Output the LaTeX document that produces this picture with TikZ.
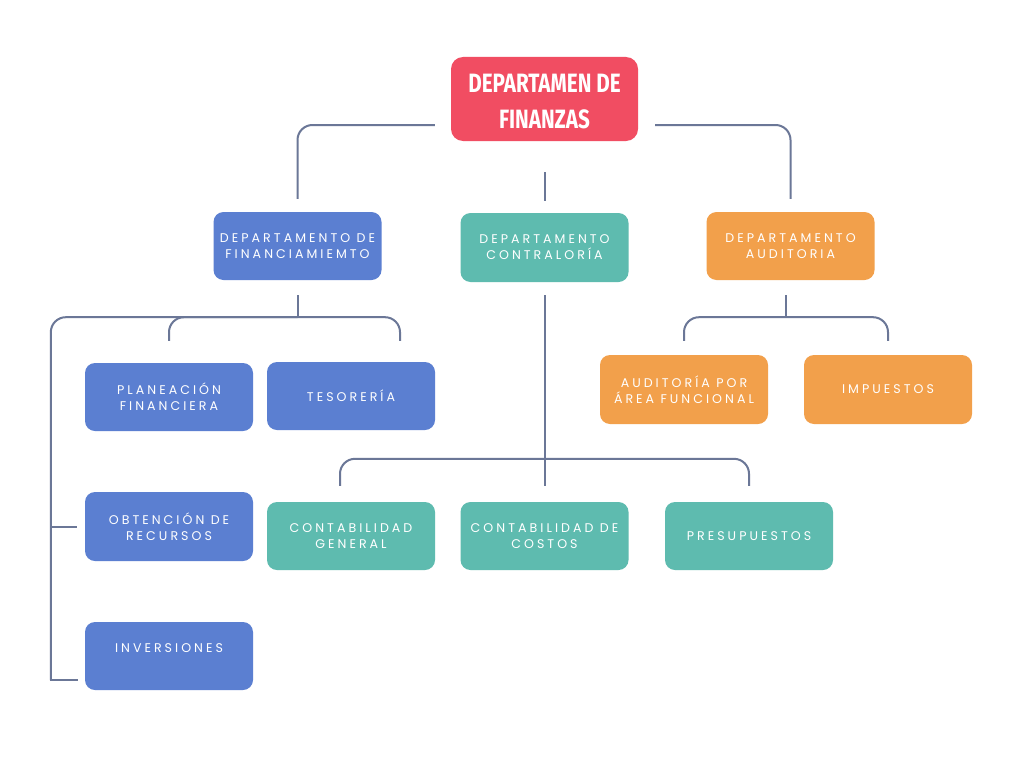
\documentclass[tikz,border=0pt]{standalone}
\usepackage{fontspec}
\usetikzlibrary{calc}
\newfontfamily\titlefont[FakeStretch=0.78]{Fira Sans}
\newfontfamily\boxfont[LetterSpace=24]{Poppins}
\definecolor{cred}{HTML}{F14D62}
\definecolor{cblue}{HTML}{5B7FD1}
\definecolor{cteal}{HTML}{5EBBAF}
\definecolor{corange}{HTML}{F2A04B}
\definecolor{cline}{HTML}{6B7797}
\tikzset{
  box/.style={rounded corners=10pt, minimum width=168pt, minimum height=68pt, inner sep=0pt,
    text=white, align=center, font=\boxfont\fontsize{12.6}{16}\selectfont},
  bbox/.style={box, fill=cblue},
  tbox/.style={box, fill=cteal},
  obox/.style={box, fill=corange},
  conn/.style={draw=cline, line width=2pt, rounded corners=15pt},
}
\begin{document}
\begin{tikzpicture}[x=1pt,y=-1pt]
\useasboundingbox[fill=white] (0,0) rectangle (1024,768);
\node[rounded corners=12pt, fill=cred, minimum width=187pt, minimum height=84pt, inner sep=0pt]
  (top) at (544.5,99) {};
\node[text=white, align=center, inner sep=0pt, font=\titlefont\bfseries\fontsize{26.5}{36}\selectfont]
  (toptext) at ($(top.center)+(0,3)$) {DEPARTAMEN DE\\FINANZAS};
\node[bbox] (fin) at (297.5,246) {DEPARTAMENTO DE\\FINANCIAMIEMTO};
\node[tbox, minimum height=69pt] (con) at (544.5,247.5) {DEPARTAMENTO\\CONTRALORÍA};
\node[obox] (aud) at (790.5,246) {DEPARTAMENTO\\AUDITORIA};
\node[bbox] (plan) at (169,397) {PLANEACIÓN\\FINANCIERA};
\node[bbox] (tes) at (351,396) {TESORERÍA};
\node[bbox, minimum height=69pt] (obt) at (169,526.5) {OBTENCIÓN DE\\RECURSOS};
\node[bbox] (inv) at (169,656) {INVERSIONES\\\mbox{}};
\node[tbox] (cg) at (351,536) {CONTABILIDAD\\GENERAL};
\node[tbox] (cc) at (544.5,536) {CONTABILIDAD DE\\COSTOS};
\node[tbox] (pre) at (749,536) {PRESUPUESTOS};
\node[obox, minimum height=69pt] (apf) at (684,389.5) {AUDITORÍA POR\\ÁREA FUNCIONAL};
\node[obox, minimum height=69pt] (imp) at (888,389.5) {IMPUESTOS};
% top level
\draw[conn] ($(top.west)+(-16,26)$) -| ($(fin.north)+(0,-13)$);
\draw[conn] ($(top.east)+(17,26)$) -| ($(aud.north)+(0,-13)$);
\draw[conn] ($(top.south)+(0,31)$) -- ($(con.north)+(0,-12)$);
% financiamiento
\coordinate (fj) at ($(fin.south)+(0,37)$);
\coordinate (bl) at ($(inv.west)+(-34,24)$);
\draw[conn] ($(fin.south)+(0,15)$) -- (fj);
\draw[conn] ($(plan.north)+(0,-22)$) |- (fj) -| ($(tes.north)+(49,-21)$);
\draw[conn] (fj) -| (bl);
\draw[conn, sharp corners, line cap=rect] (bl) -- ($(inv.west)+(-8,24)$);
\draw[conn] ($(obt.west)+(-34,0)$) -- ($(obt.west)+(-8,0)$);
% contraloria
\coordinate (cj) at ($(cc.north)+(0,-43)$);
\draw[conn] ($(con.south)+(0,13)$) -- ($(cc.north)+(0,-16)$);
\draw[conn] ($(cg.north)+(-11,-16)$) |- (cj) -| ($(pre.north)+(0,-16)$);
% auditoria
\coordinate (aj) at ($(aud.south)+(-4.5,37)$);
\draw[conn] ($(aud.south)+(-4.5,15)$) -- (aj);
\draw[conn] ($(apf.north)+(0,-14)$) |- (aj) -| ($(imp.north)+(0,-14)$);
\end{tikzpicture}
\end{document}
